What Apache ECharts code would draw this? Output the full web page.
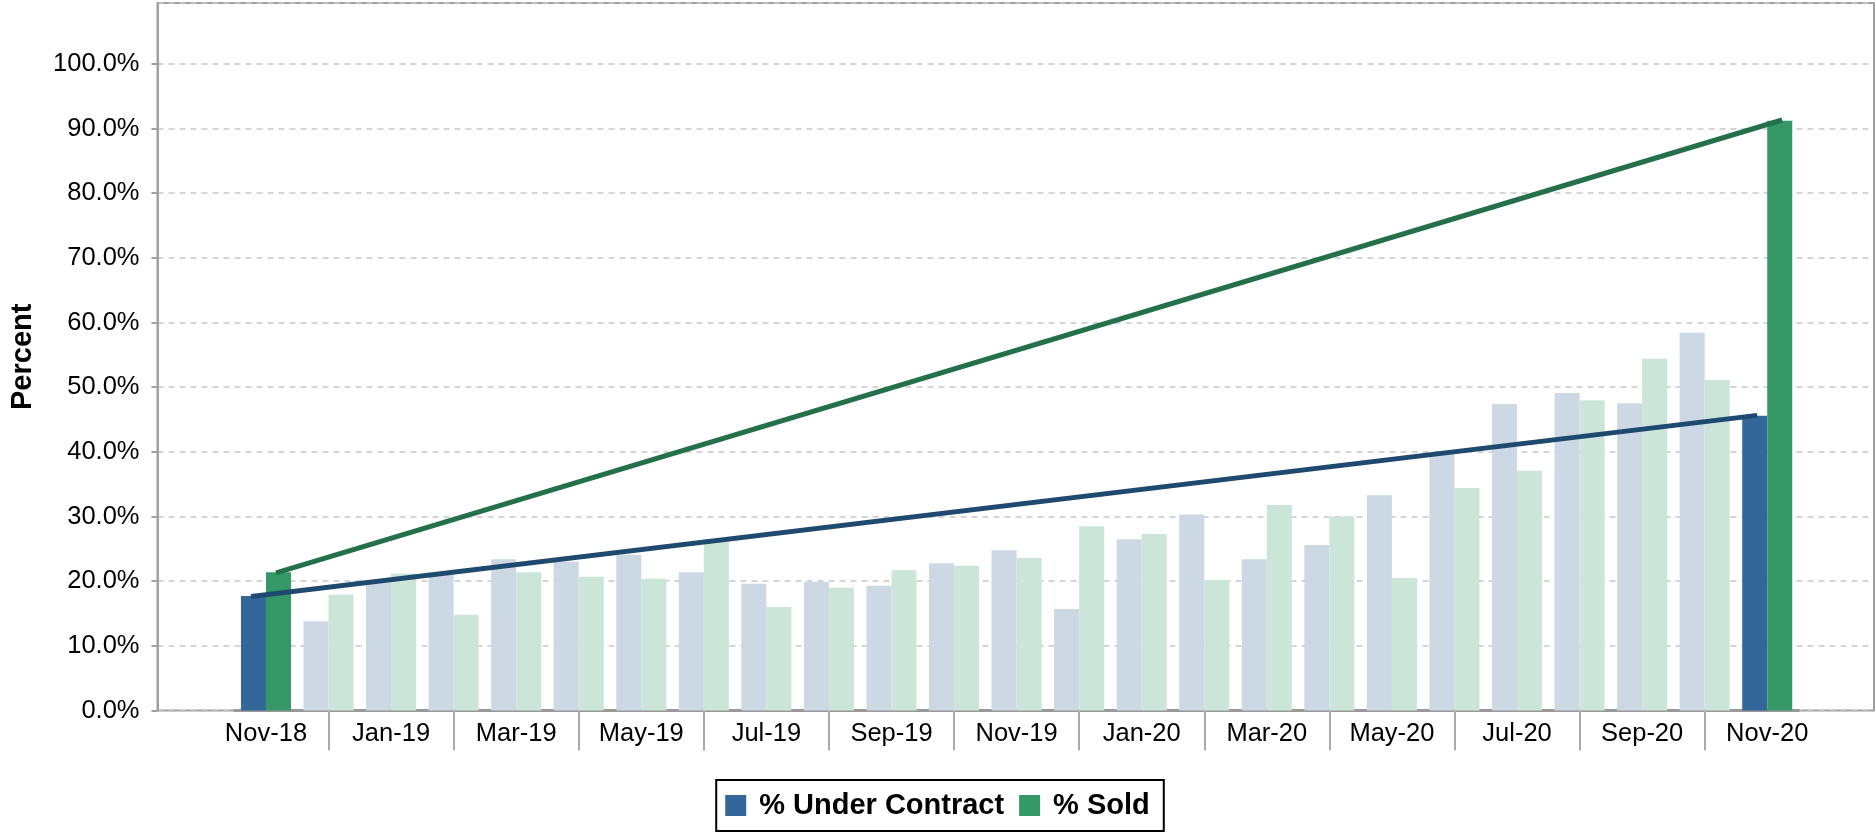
<!DOCTYPE html>
<html>
<head>
<meta charset="utf-8">
<script src="https://cdn.jsdelivr.net/npm/echarts@6/dist/echarts.min.js"></script>
<style>
  html, body { margin: 0; padding: 0; background: #fff; }
  #chart { width: 1875px; height: 832px; }
</style>
</head>
<body>
<div id="chart"></div>
<script>
// months Nov-18 .. Nov-20
const months = ['Nov-18', 'Dec-18', 'Jan-19', 'Feb-19', 'Mar-19', 'Apr-19', 'May-19', 'Jun-19', 'Jul-19',
  'Aug-19', 'Sep-19', 'Oct-19', 'Nov-19', 'Dec-19', 'Jan-20', 'Feb-20', 'Mar-20', 'Apr-20', 'May-20',
  'Jun-20', 'Jul-20', 'Aug-20', 'Sep-20', 'Oct-20', 'Nov-20'];
const underContract = [17.7, 13.8, 19.9, 21.1, 23.4, 23.0, 24.1, 21.4, 19.6, 19.9, 19.3, 22.8, 24.8,
  15.7, 26.5, 30.3, 23.4, 25.6, 33.3, 39.8, 47.4, 49.1, 47.5, 58.4, 45.6];
const sold = [21.4, 17.9, 21.2, 14.8, 21.4, 20.7, 20.4, 26.5, 16.0, 19.0, 21.7, 22.4, 23.6,
  28.5, 27.3, 20.2, 31.8, 30.0, 20.5, 34.4, 37.1, 48.0, 54.4, 51.1, 91.2];
const seriesNames = ['% Under Contract', '% Sold'];

const FONT = "'Liberation Sans', Arial, sans-serif";
const blue = '#346799', blueFaded = '#ccd8e3', blueLine = '#1f4a70';
const green = '#349967', greenFaded = '#cbe5d8', greenLine = '#24704a';
const yMax = 109.4;
const last = months.length - 1;

function barData(vals, full, faded) {
  return vals.map((v, i) => ({
    value: v,
    itemStyle: { color: i === 0 || i === last ? full : faded },
  }));
}

// trend line from first to last month, drawn over the bar centre
function endPoints(vals, shift) {
  return [[0 + shift, vals[0]], [last + shift, vals[last]]];
}

let chart = echarts.init(document.getElementById('chart'));

let option = {
  animation: false,
  textStyle: { fontFamily: FONT },
  grid: [
    { left: 157.5, right: 1, top: 3, bottom: 121.4, show: true, borderColor: '#a0a0a0', borderWidth: 2 },
    { left: 234.7, right: 76.5, top: 3, bottom: 121.4 },
  ],
  legend: {
    data: seriesNames,
    left: 'center',
    bottom: 1,
    icon: 'rect',
    itemWidth: 21,
    itemHeight: 21,
    itemGap: 15,
    padding: [11, 14, 11, 9],
    borderColor: '#000',
    borderWidth: 2,
    backgroundColor: '#fff',
    textStyle: { fontSize: 29, fontWeight: 'bold', color: '#000', fontFamily: FONT, padding: [0, 0, 0, 8] },
  },
  xAxis: [
    { type: 'category', gridIndex: 0, show: false, data: months },
    {
      type: 'category',
      gridIndex: 1,
      data: months,
      axisLine: { lineStyle: { color: '#999', width: 3 } },
      axisTick: {
        show: true,
        alignWithLabel: true,
        interval: i => i % 2 === 1,
        length: 40,
        lineStyle: { color: '#aaa', width: 2 },
      },
      axisLabel: { interval: 1, fontSize: 25.5, color: '#000', margin: 10, fontFamily: FONT },
    },
    { type: 'value', gridIndex: 1, show: false, min: -0.5, max: last + 0.5 },
  ],
  yAxis: [
    {
      type: 'value',
      gridIndex: 0,
      min: 0,
      max: yMax,
      interval: 10,
      name: 'Percent',
      nameLocation: 'middle',
      nameGap: 120,
      nameTextStyle: { fontSize: 29, fontWeight: 'bold', color: '#000', fontFamily: FONT },
      axisLine: { show: true, lineStyle: { color: '#a0a0a0', width: 2 } },
      axisTick: { show: true, length: 6, lineStyle: { color: '#a0a0a0', width: 2 } },
      axisLabel: {
        fontSize: 25.5, color: '#000', margin: 18, fontFamily: FONT, showMaxLabel: false,
        formatter: v => v.toFixed(1) + '%',
      },
      splitLine: { lineStyle: { color: '#c8c8c8', width: 1.5, type: [6, 5] } },
    },
    { type: 'value', gridIndex: 1, show: false, min: 0, max: yMax },
  ],
  series: [
    {
      name: seriesNames[0],
      type: 'bar',
      xAxisIndex: 1,
      yAxisIndex: 1,
      barGap: '0%',
      barCategoryGap: '20%',
      itemStyle: { color: blue },
      data: barData(underContract, blue, blueFaded),
    },
    {
      name: seriesNames[1],
      type: 'bar',
      xAxisIndex: 1,
      yAxisIndex: 1,
      itemStyle: { color: green },
      data: barData(sold, green, greenFaded),
    },
    {
      name: 'trend uc',
      type: 'line',
      xAxisIndex: 2,
      yAxisIndex: 1,
      symbol: 'none',
      z: 5,
      lineStyle: { color: blueLine, width: 5, cap: 'square' },
      data: endPoints(underContract, -0.2),
    },
    {
      name: 'trend sold',
      type: 'line',
      xAxisIndex: 2,
      yAxisIndex: 1,
      symbol: 'none',
      z: 5,
      lineStyle: { color: greenLine, width: 5, cap: 'square' },
      data: endPoints(sold, 0.2),
    },
  ],
};

chart.setOption(option);
</script>
</body>
</html>
